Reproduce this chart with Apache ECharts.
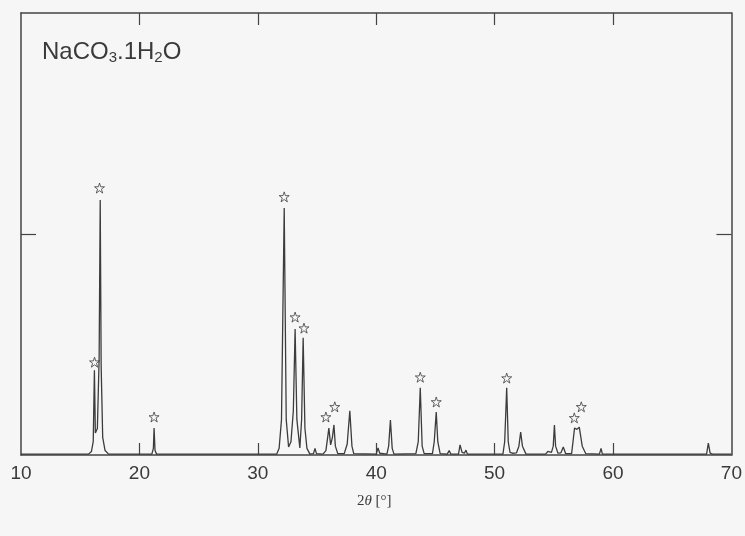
<!DOCTYPE html>
<html>
<head>
<meta charset="utf-8">
<script src="https://cdn.jsdelivr.net/npm/echarts@6/dist/echarts.min.js"></script>
<style>
html,body{margin:0;padding:0;background:#f7f6f6;}
#c{width:745px;height:536px;}
</style>
</head>
<body>
<div id="c"></div>
<script>
// 2θ positions (degrees) of the traced XRD profile
var twoTheta = [
  10.0, 15.7, 15.95, 16.1, 16.2, 16.28, 16.45, 16.6, 16.69, 16.77, 16.9, 17.1, 17.4,
  21.05, 21.18, 21.24, 21.32, 21.45,
  31.6, 31.8, 32.0, 32.23, 32.4, 32.6, 32.8, 33.0, 33.15, 33.3, 33.55, 33.7, 33.83, 33.98, 34.15, 34.4,
  34.7, 34.83, 34.95,
  35.5, 35.75, 35.9, 36.0, 36.15, 36.3, 36.43, 36.55, 36.75,
  37.3, 37.55, 37.77, 37.95, 38.1,
  40.0, 40.15, 40.3, 40.45,
  40.9, 41.05, 41.2, 41.35, 41.5,
  43.35, 43.55, 43.72, 43.88, 44.05,
  44.75, 44.9, 45.07, 45.2, 45.4,
  46.0, 46.16, 46.3,
  46.95, 47.08, 47.25, 47.45, 47.58, 47.7,
  50.7, 50.85, 51.02, 51.15, 51.3, 51.5,
  51.85, 52.05, 52.2, 52.35, 52.65,
  52.9, 52.95, 53.05,
  54.3, 54.5, 54.8, 54.95, 55.05, 55.15, 55.35,
  55.6, 55.8, 56.0,
  56.5, 56.62, 56.75, 56.95, 57.15, 57.4, 57.7,
  58.85, 58.99, 59.1,
  60.4, 60.5, 60.65,
  67.9, 68.05, 68.2, 68.4, 70.0
];
// relative intensity (%) at those positions
var intensity = [
  0.2, 0.2, 0.8, 3, 19.2, 5, 6, 22, 57.7, 20, 4, 1, 0.2,
  0.2, 1.5, 6.1, 1, 0.2,
  0.2, 1.5, 8, 55.9, 8, 1.8, 3, 10, 28.5, 8, 1.6, 8, 26.5, 6, 1.5, 0.2,
  0.3, 1.5, 0.3,
  0.2, 1, 4, 6.1, 2.3, 4, 6.8, 2, 0.3,
  0.3, 2.5, 10, 2, 0.3,
  0.2, 1.6, 0.4, 0.2,
  0.2, 2, 7.9, 1.5, 0.2,
  0.3, 3, 15.2, 2, 0.3,
  0.3, 3, 9.7, 3, 0.3,
  0.2, 1, 0.2,
  0.2, 2.3, 0.6, 0.4, 1.1, 0.2,
  0.2, 3, 15.2, 3, 0.6, 0.4,
  0.5, 2, 5.2, 2, 0.2,
  0.2, 0.6, 0.2,
  0.2, 0.8, 0.6, 2, 6.8, 2, 0.4,
  0.5, 1.8, 0.3,
  0.3, 3, 6.1, 5.8, 6.3, 2, 0.3,
  0.2, 1.5, 0.2,
  0.2, 0.6, 0.2,
  0.2, 2.7, 0.4, 0.2, 0.2
];
// star markers (peak identification) positions
var starTheta = [16.21, 16.63, 21.24, 32.23, 33.15, 33.9, 35.75, 36.5, 43.72, 45.07, 51.02, 56.73, 57.32];
var starInt   = [21.0, 60.4, 8.6, 58.4, 31.2, 28.7, 8.6, 10.9, 17.6, 12.0, 17.4, 8.4, 10.9];
var xTicks = [10, 20, 30, 40, 50, 60, 70];
var xInnerTicks = [20, 30, 40, 50, 60];
var yInnerTicks = [50];
var titleText = 'NaCO{s|3}.1H{s|2}O';

var profile = twoTheta.map(function (t, i) { return [t, intensity[i]]; });
var stars = starTheta.map(function (t, i) { return [t, starInt[i]]; });

var starPath = 'path://M50,4 L61,37 L96,37 L68,58 L79,92 L50,71 L21,92 L32,58 L4,37 L39,37 Z';
var lineCol = '#3c3c3c';
var axCol = '#444';
function xAx(pos, labels) {
  return {
    type: 'value', min: 10, max: 70, interval: 10, position: pos,
    axisLine: { show: true, onZero: false, lineStyle: { color: axCol, width: 1.5 } },
    axisTick: { show: true, inside: true, length: 12, customValues: xInnerTicks, lineStyle: { color: axCol, width: 1.2 } },
    axisLabel: labels ? {
      show: true, margin: 9, color: '#3a3a3a', fontSize: 19,
      fontFamily: 'Liberation Sans, Arial, sans-serif',
      customValues: xTicks
    } : { show: false },
    splitLine: { show: false }
  };
}
function yAx(pos) {
  return {
    type: 'value', min: 0, max: 100, interval: 50, position: pos,
    axisLine: { show: true, onZero: false, lineStyle: { color: axCol, width: 1.5 } },
    axisTick: { show: true, inside: true, length: 15, customValues: yInnerTicks, lineStyle: { color: axCol, width: 1.2 } },
    axisLabel: { show: false }, splitLine: { show: false }
  };
}

var chart = echarts.init(document.getElementById('c'), null, { renderer: 'canvas' });
chart.setOption({
  backgroundColor: '#f7f6f6',
  animation: false,
  grid: { left: 21, right: 9, top: 13, bottom: 81 },
  xAxis: [xAx('bottom', true), xAx('top', false)],
  yAxis: [yAx('left'), yAx('right')],
  graphic: [
    {
      type: 'text', left: 42, top: 40,
      style: {
        text: titleText, fill: '#3a3a3a',
        font: '24px "Liberation Sans", Arial, sans-serif',
        rich: { s: { fontSize: 15, verticalAlign: 'bottom', padding: [11, 0, 0, 0], fill: '#3a3a3a', fontFamily: 'Liberation Sans' } }
      }
    },
    {
      type: 'text', left: 357, top: 494,
      style: {
        text: '2{i|θ} [°]', fill: '#3a3a3a',
        font: '15px "Liberation Serif", "DejaVu Serif", serif',
        rich: { i: { fontStyle: 'italic', fontSize: 15, fontFamily: 'Liberation Serif', fill: '#3a3a3a' } }
      }
    }
  ],
  series: [
    {
      type: 'line', xAxisIndex: 0, yAxisIndex: 0, data: profile,
      showSymbol: false, symbol: 'none', smooth: false,
      lineStyle: { color: lineCol, width: 1.3 }
    },
    {
      type: 'scatter', xAxisIndex: 0, yAxisIndex: 0, data: stars,
      symbol: starPath, symbolSize: 10,
      itemStyle: { color: 'rgba(0,0,0,0)', borderColor: '#3c3c3c', borderWidth: 1 }
    }
  ]
});
</script>
</body>
</html>
